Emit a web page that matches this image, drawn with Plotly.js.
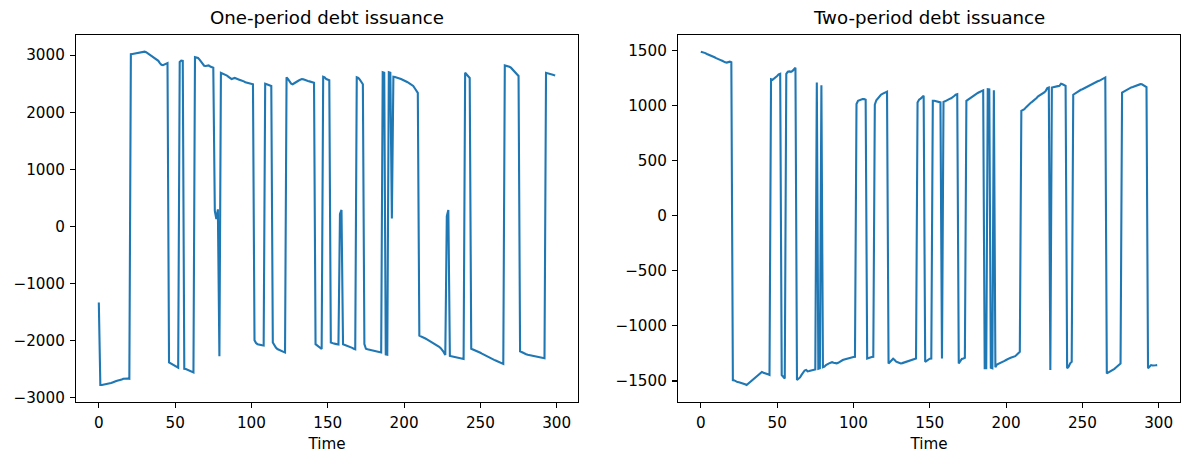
<!DOCTYPE html>
<html>
<head>
<meta charset="utf-8">
<script src="https://cdn.plot.ly/plotly-3.0.1.min.js"></script>
<style>html,body{margin:0;padding:0;background:#fff;}#chart{width:1181px;height:453px;}</style>
</head>
<body>
<div id="chart"></div>
<script>
// One-period debt issuance, t = 0..299
const oneperiod = [
-1330,-2775,-2775,-2770,-2770,-2765,-2760,-2750,-2740,-2730,
-2715,-2710,-2700,-2695,-2685,-2680,-2665,-2660,-2655,-2660,
-2665,3015,3020,3025,3025,3030,3035,3040,3045,3055,
3060,3050,3030,3010,2990,2975,2960,2940,2920,2900,
2860,2830,2825,2840,2855,2860,-2380,-2395,-2420,-2435,
-2450,-2460,-2470,2880,2905,2900,-2490,-2495,-2505,-2515,
-2525,-2540,-2555,2965,2960,2950,2920,2880,2840,2815,
2810,2815,2820,2800,2785,2780,274,130,300,-2270,
2690,2680,2665,2650,2640,2620,2595,2580,2590,2600,
2590,2575,2570,2560,2555,2540,2525,2520,2510,2500,
2495,2490,-1990,-2040,-2060,-2070,-2075,-2080,-2085,2500,
2490,2480,2470,2460,-2030,-2080,-2120,-2145,-2160,-2175,
-2185,-2195,-2205,2610,2580,2540,2500,2490,2510,2530,
2545,2555,2570,2580,2575,2560,2550,2545,2540,2530,
2520,2515,-2060,-2085,-2110,-2130,-2145,2620,2610,2580,
2570,2560,-2030,-2045,-2050,-2055,-2060,-2065,220,290,
-2060,-2070,-2080,-2085,-2095,-2110,-2125,-2140,-2150,2610,
2600,2570,2520,2490,-2060,-2140,-2150,-2155,-2160,-2165,
-2170,-2175,-2180,-2185,-2195,-2205,2700,2690,-2240,-2245,
2700,2690,140,2620,2615,2610,2600,2590,2580,2570,
2560,2545,2530,2515,2500,2490,2460,2420,2380,2340,
-1910,-1920,-1935,-1950,-1960,-1975,-1990,-2005,-2020,-2035,
-2050,-2070,-2085,-2105,-2130,-2160,-2200,-2250,180,290,
-2265,-2270,-2275,-2280,-2285,-2290,-2300,-2305,-2315,-2320,
2690,2660,2635,2600,-2140,-2150,-2160,-2170,-2180,-2195,
-2210,-2225,-2240,-2255,-2270,-2285,-2300,-2310,-2325,-2335,
-2345,-2355,-2370,-2385,-2395,-2405,2820,2815,2805,2795,
2780,2750,2720,2690,2665,2635,-2185,-2200,-2215,-2225,
-2235,-2245,-2250,-2255,-2260,-2265,-2270,-2275,-2280,-2280,
-2285,-2295,-2305,2690,2680,2670,2660,2655,2650,2645
];
// Two-period debt issuance, t = 0..299
const twoperiod = [
1491,1488,1480,1478,1470,1465,1460,1455,1450,1440,
1432,1428,1420,1414,1408,1400,1394,1392,1398,1400,
1395,-1492,-1495,-1505,-1510,-1512,-1515,-1520,-1525,-1530,
-1537,-1525,-1510,-1495,-1485,-1475,-1465,-1455,-1440,-1425,
-1418,-1425,-1432,-1436,-1440,-1445,1240,1235,1245,1260,
1270,1285,1290,-1446,-1465,-1477,1290,1310,1312,1308,
1315,1330,1345,-1492,-1480,-1468,-1445,-1420,-1405,-1400,
-1412,-1410,-1405,-1402,-1398,-1395,1210,-1390,-1385,1185,
-1375,-1370,-1355,-1345,-1340,-1335,-1330,-1335,-1340,-1340,
-1335,-1325,-1315,-1310,-1305,-1300,-1298,-1295,-1290,-1285,
-1282,-1280,1015,1045,1052,1058,1060,1060,1055,-1296,
-1290,-1285,-1282,-1280,1010,1050,1070,1085,1100,1108,
1115,1122,1128,-1341,-1325,-1310,-1298,-1310,-1325,-1330,
-1338,-1341,-1338,-1333,-1328,-1325,-1320,-1318,-1315,-1310,
-1300,-1296,1030,1055,1065,1080,1090,-1326,-1315,-1305,
-1298,-1296,1045,1045,1042,1038,1032,1030,-1296,1035,
1040,1050,1058,1062,1068,1075,1088,1100,1105,-1341,
-1320,-1300,-1296,-1290,1045,1055,1070,1078,1090,1100,
1105,1112,1120,1128,1135,1140,-1385,-1385,1150,1148,
-1380,-1385,1140,-1375,-1350,-1345,-1340,-1335,-1326,-1318,
-1310,-1300,-1295,-1290,-1285,-1282,-1275,-1262,-1245,-1235,
954,960,969,985,1000,1014,1025,1035,1045,1055,
1070,1085,1092,1100,1110,1120,1135,1160,1165,-1400,
1165,1170,1172,1175,1178,1181,1200,1195,1185,1180,
-1385,-1370,-1340,-1326,1100,1110,1120,1127,1135,1145,
1150,1158,1165,1172,1180,1188,1195,1200,1208,1215,
1222,1226,1235,1245,1250,1257,-1432,-1425,-1415,-1408,
-1400,-1390,-1378,-1365,-1350,-1341,1120,1128,1140,1145,
1150,1160,1166,1170,1176,1181,1185,1190,1196,1195,
1188,1181,1170,-1385,-1370,-1356,-1360,-1356,-1358,-1356
];
const titles = ["One-period debt issuance", "Two-period debt issuance"];
const xLabel = "Time";
const xTicks = [0, 50, 100, 150, 200, 250, 300];
const yTicks1 = [-3000, -2000, -1000, 0, 1000, 2000, 3000];
const yTicks2 = [-1500, -1000, -500, 0, 500, 1000, 1500];

const time = oneperiod.map((_, i) => i);
const W = 1181, H = 453;
const FONT = "DejaVu Sans, Liberation Sans, sans-serif";
const BLUE = "#1f77b4";
const TICKSZ = 15.2, TITLESZ = 18.2;

function pad(arr) {
  const mn = Math.min(...arr), mx = Math.max(...arr), s = mx - mn;
  return [mn - 0.05 * s, mx + 0.05 * s];
}
const xr = pad(time);
const dom1 = [76 / W, 578 / W];
const dom2 = [678 / W, 1180 / W];
const ydom = [1 - 401.7 / H, 1 - 35 / H];

function xax(anchor, dom) {
  return {
    domain: dom, anchor: anchor, range: xr, tickvals: xTicks,
    showgrid: false, zeroline: false, showline: true, mirror: true,
    linecolor: "#000", linewidth: 1.1, ticks: "outside", ticklen: 5,
    tickwidth: 1.1, tickcolor: "#000",
    tickfont: {family: FONT, size: TICKSZ, color: "#000"},
    ticklabelstandoff: 2,
    title: {text: xLabel, font: {family: FONT, size: TICKSZ, color: "#000"}, standoff: 8},
    automargin: false
  };
}
function yax(anchor, ticks, data) {
  return {
    domain: ydom, anchor: anchor, range: pad(data), tickvals: ticks,
    showgrid: false, zeroline: false, showline: true, mirror: true,
    linecolor: "#000", linewidth: 1.1, ticks: "outside", ticklen: 5,
    tickwidth: 1.1, tickcolor: "#000",
    tickfont: {family: FONT, size: TICKSZ, color: "#000"},
    ticklabelstandoff: 2,
    automargin: false
  };
}

const traces = [
  {x: time, y: oneperiod, type: "scatter", mode: "lines", xaxis: "x", yaxis: "y",
   line: {color: BLUE, width: 2.1}, hoverinfo: "skip"},
  {x: time, y: twoperiod, type: "scatter", mode: "lines", xaxis: "x2", yaxis: "y2",
   line: {color: BLUE, width: 2.1}, hoverinfo: "skip"}
];

const layout = {
  width: W, height: H,
  margin: {l: 0, r: 0, t: 0, b: 0},
  paper_bgcolor: "#fff", plot_bgcolor: "#fff",
  showlegend: false,
  font: {family: FONT, color: "#000"},
  xaxis: xax("y", dom1),
  yaxis: yax("x", yTicks1, oneperiod),
  xaxis2: xax("y2", dom2),
  yaxis2: yax("x2", yTicks2, twoperiod),
  annotations: [
    {text: titles[0], xref: "paper", yref: "paper", x: (dom1[0] + dom1[1]) / 2, y: 1 - 18 / H,
     xanchor: "center", yanchor: "middle", showarrow: false,
     font: {family: FONT, size: TITLESZ, color: "#000"}},
    {text: titles[1], xref: "paper", yref: "paper", x: (dom2[0] + dom2[1]) / 2, y: 1 - 18 / H,
     xanchor: "center", yanchor: "middle", showarrow: false,
     font: {family: FONT, size: TITLESZ, color: "#000"}}
  ]
};

Plotly.newPlot("chart", traces, layout, {staticPlot: true, displayModeBar: false});
</script>
</body>
</html>
